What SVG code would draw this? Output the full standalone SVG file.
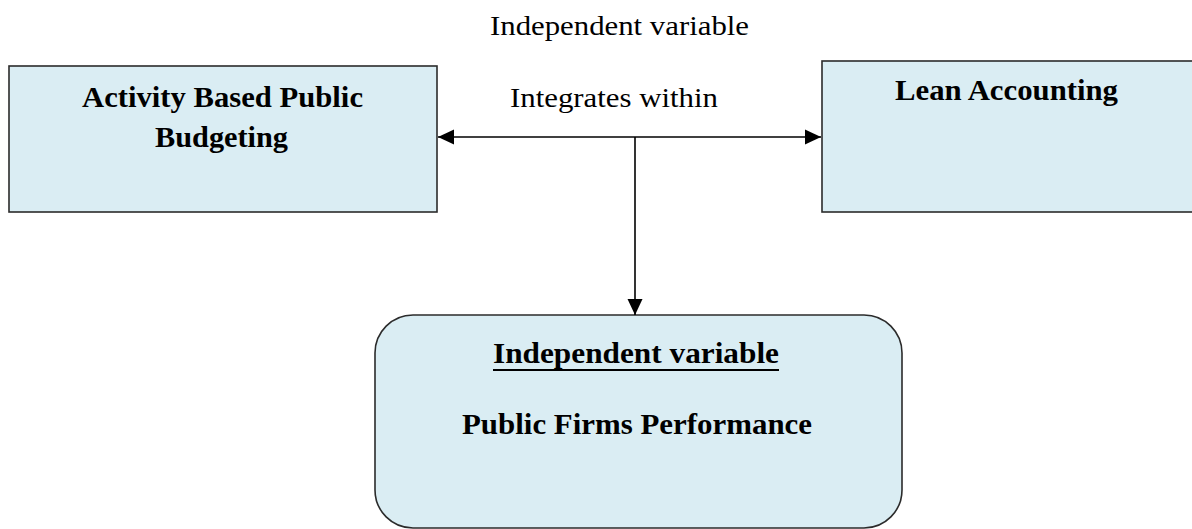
<svg xmlns="http://www.w3.org/2000/svg" width="1192" height="529" viewBox="0 0 1192 529">
<style>
.box{fill:#DAEDF3;stroke:#2b2b2b;stroke-width:1.6}
.b{font-family:"Liberation Serif","Times New Roman",serif;font-weight:bold;font-size:29px;fill:#000}
.r{font-family:"Liberation Serif","Times New Roman",serif;font-size:27px;fill:#000}
.ln{stroke:#000;stroke-width:1.6;fill:none}
</style>
<defs>
<marker id="ah2" viewBox="0 0 16 16" refX="16" refY="8" markerWidth="16" markerHeight="16" markerUnits="userSpaceOnUse" orient="auto">
<path d="M0,0.5 L16,8 L0,15.5 Z" fill="#000"/>
</marker>
</defs>
<rect width="1192" height="529" fill="#fff"/>
<text class="r" x="490" y="35" textLength="259" lengthAdjust="spacingAndGlyphs">Independent variable</text>
<g id="node-abpb">
<rect class="box" x="9" y="66" width="428" height="146"/>
<text class="b" x="82" y="107" textLength="281" lengthAdjust="spacingAndGlyphs">Activity Based Public</text>
<text class="b" x="155" y="147" textLength="133" lengthAdjust="spacingAndGlyphs">Budgeting</text>
</g>
<g id="node-lean">
<rect class="box" x="822" y="61" width="380" height="151"/>
<text class="b" x="895" y="100" textLength="223" lengthAdjust="spacingAndGlyphs">Lean Accounting</text>
</g>
<g id="node-perf">
<rect class="box" x="375" y="315" width="527" height="213" rx="38" ry="38"/>
<text class="b" x="493" y="363" textLength="286" lengthAdjust="spacingAndGlyphs">Independent  variable</text>
<line x1="493" y1="370" x2="779" y2="370" stroke="#000" stroke-width="2"/>
<text class="b" x="462" y="434" textLength="350" lengthAdjust="spacingAndGlyphs">Public Firms Performance</text>
</g>
<g id="connectors">
<line class="ln" x1="635" y1="137" x2="438" y2="137" marker-end="url(#ah2)"/>
<line class="ln" x1="635" y1="137" x2="821" y2="137" marker-end="url(#ah2)"/>
<line class="ln" x1="635" y1="137" x2="635" y2="315" marker-end="url(#ah2)"/>
<text class="r" x="510" y="107" textLength="208" lengthAdjust="spacingAndGlyphs">Integrates within</text>
</g>
</svg>
